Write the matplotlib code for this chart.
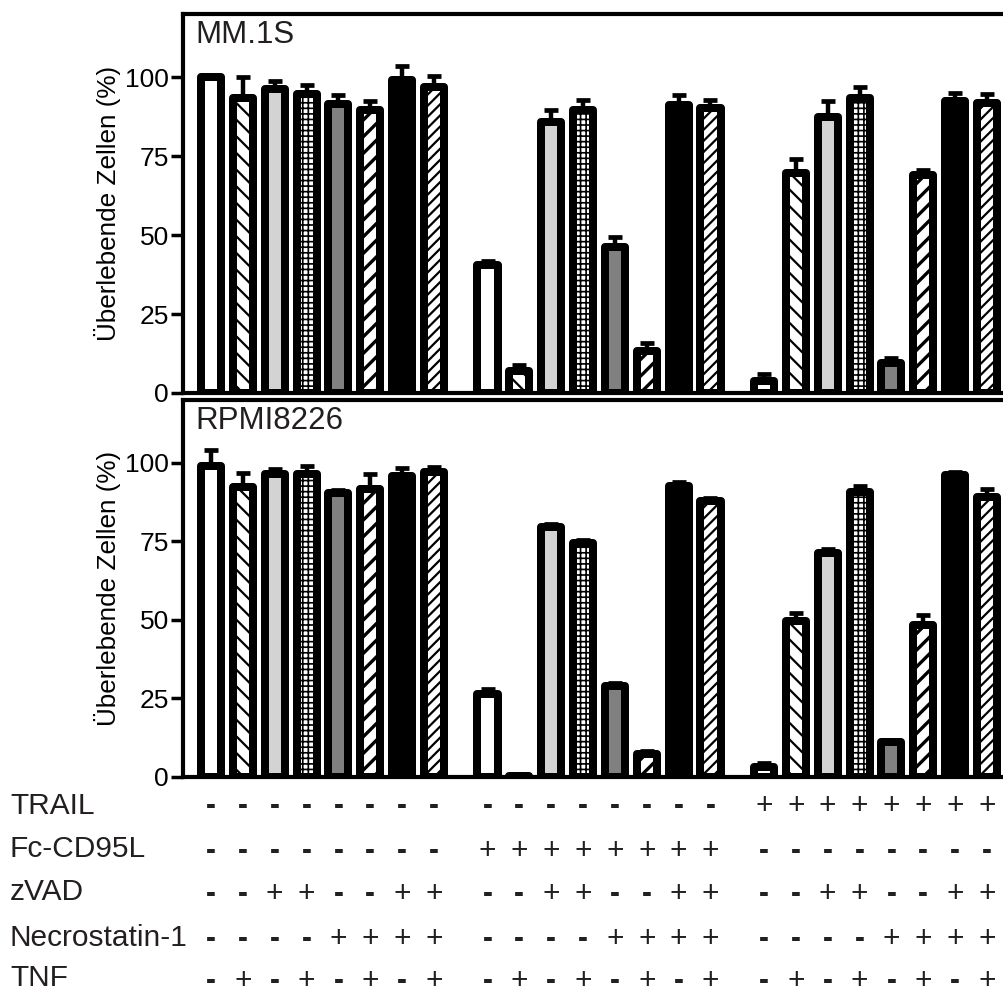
import matplotlib
matplotlib.use("Agg")
import matplotlib.pyplot as plt
import matplotlib.transforms as mtransforms
import numpy as np

plt.rcParams['font.family'] = ['Liberation Sans', 'DejaVu Sans']
plt.rcParams['hatch.color'] = 'black'

# ---------------- data ----------------
panel_names = ["MM.1S", "RPMI8226"]

mm1s_vals = [
    [100, 93.5, 96.3, 94.6, 91.5, 89.6, 99.0, 97.0],
    [40.4, 7.0, 85.9, 89.6, 46.3, 13.3, 91.2, 90.2],
    [3.9, 69.7, 87.5, 93.5, 9.4, 69.0, 92.3, 91.7],
]
mm1s_err = [
    [0.5, 6.5, 2.5, 3.0, 3.0, 3.0, 4.5, 3.5],
    [1.5, 2.0, 3.8, 3.3, 3.0, 2.5, 3.2, 2.5],
    [2.0, 4.3, 5.0, 3.5, 1.8, 1.7, 2.8, 3.0],
]
rpmi_vals = [
    [99.1, 92.3, 96.5, 96.3, 90.4, 91.7, 95.8, 97.2],
    [26.4, 0.4, 79.5, 74.5, 29.0, 7.3, 92.7, 88.0],
    [3.1, 49.6, 71.2, 90.7, 11.0, 48.5, 96.0, 89.0],
]
rpmi_err = [
    [5.0, 4.5, 1.5, 2.7, 0.8, 4.6, 2.6, 1.5],
    [1.7, 0.3, 1.0, 1.0, 1.0, 1.0, 1.2, 0.8],
    [1.3, 2.7, 1.3, 2.0, 0.8, 3.0, 1.0, 2.8],
]

row_labels = ["TRAIL", "Fc-CD95L", "zVAD", "Necrostatin-1", "TNF"]
# one string per row, 24 conditions (3 groups of 8)
row_signs = [
    "--------" + "--------" + "++++++++",
    "--------" + "++++++++" + "--------",
    "--++--++" + "--++--++" + "--++--++",
    "----++++" + "----++++" + "----++++",
    "-+-+-+-+" + "-+-+-+-+" + "-+-+-+-+",
]

yticks = [0, 25, 50, 75, 100]
ylabel = "Überlebende Zellen (%)"

# bar styles (fill colour, hatch)
fills = ["white", "white", "#d3d3d3", "white", "#808080", "white", "black", "white"]
hatches = [None, "\\\\", None, "+++", None, "//", None, "///"]

# ---------------- layout ----------------
W, H = 1004, 994
fig = plt.figure(figsize=(W / 100, H / 100), dpi=100)

group_step = 8.68
positions = np.array([g * group_step + i for g in range(3) for i in range(8)])
xlim = (-0.88, 25.24)

ax_left = 183 / W
ax_right = 1015 / W
top_ax = fig.add_axes([ax_left, (H - 393) / H, ax_right - ax_left, (393 - 14) / H])
bot_ax = fig.add_axes([ax_left, (H - 777) / H, ax_right - ax_left, (777 - 400) / H])

edge_lw = 5.76
bar_w = 0.63


def draw_panel(ax, vals, errs, name):
    v = np.array(vals).ravel()
    e = np.array(errs).ravel()
    ax.errorbar(positions, v, yerr=[np.zeros_like(e), e], fmt='none',
                ecolor='black', elinewidth=3.2, capsize=5.0, capthick=3.4,
                zorder=2)
    bars = ax.bar(positions, v, width=bar_w, bottom=0,
                  color=[fills[i % 8] for i in range(24)],
                  edgecolor='black', linewidth=edge_lw, zorder=3)
    for i, b in enumerate(bars):
        h = hatches[i % 8]
        b.set_joinstyle('round')
        if h:
            b.set_hatch(h)
            if hasattr(b, 'set_hatch_linewidth'):
                lw = {"//": 2.4, "+++": 1.2}.get(h, 1.6)
                b.set_hatch_linewidth(lw)
    ax.set_xlim(*xlim)
    ax.set_ylim(0, 120)
    ax.set_yticks(yticks)
    ax.set_yticklabels([str(t) for t in yticks], fontsize=19)
    ax.set_xticks([])
    ax.tick_params(axis='y', direction='out', length=9, width=2.5, pad=1)
    for s in ax.spines.values():
        s.set_linewidth(3)
    ax.set_ylabel(ylabel, fontsize=18.8, labelpad=3)
    ax.text(0.015, 0.985, name, transform=ax.transAxes, fontsize=22.5,
            color='#231f20', ha='left', va='top')


draw_panel(top_ax, mm1s_vals, mm1s_err, panel_names[0])
draw_panel(bot_ax, rpmi_vals, rpmi_err, panel_names[1])

# ---------------- condition table ----------------
label_base = [814, 857, 900, 946, 986]
sign_base = [814, 859, 902, 947, 989]
trans = mtransforms.blended_transform_factory(bot_ax.transData, fig.transFigure)
for r, lab in enumerate(row_labels):
    fig.text(10 / W, (H - label_base[r]) / H, lab, fontsize=21.5,
             color='#231f20', ha='left', va='baseline')
    for k, ch in enumerate(row_signs[r]):
        fig.text(positions[k], (H - sign_base[r]) / H, ch, transform=trans,
                 fontsize=21.5, color='#231f20', ha='center', va='baseline',
                 fontweight='bold' if ch == '-' else 'normal')

fig.savefig("out.png", dpi=100)
